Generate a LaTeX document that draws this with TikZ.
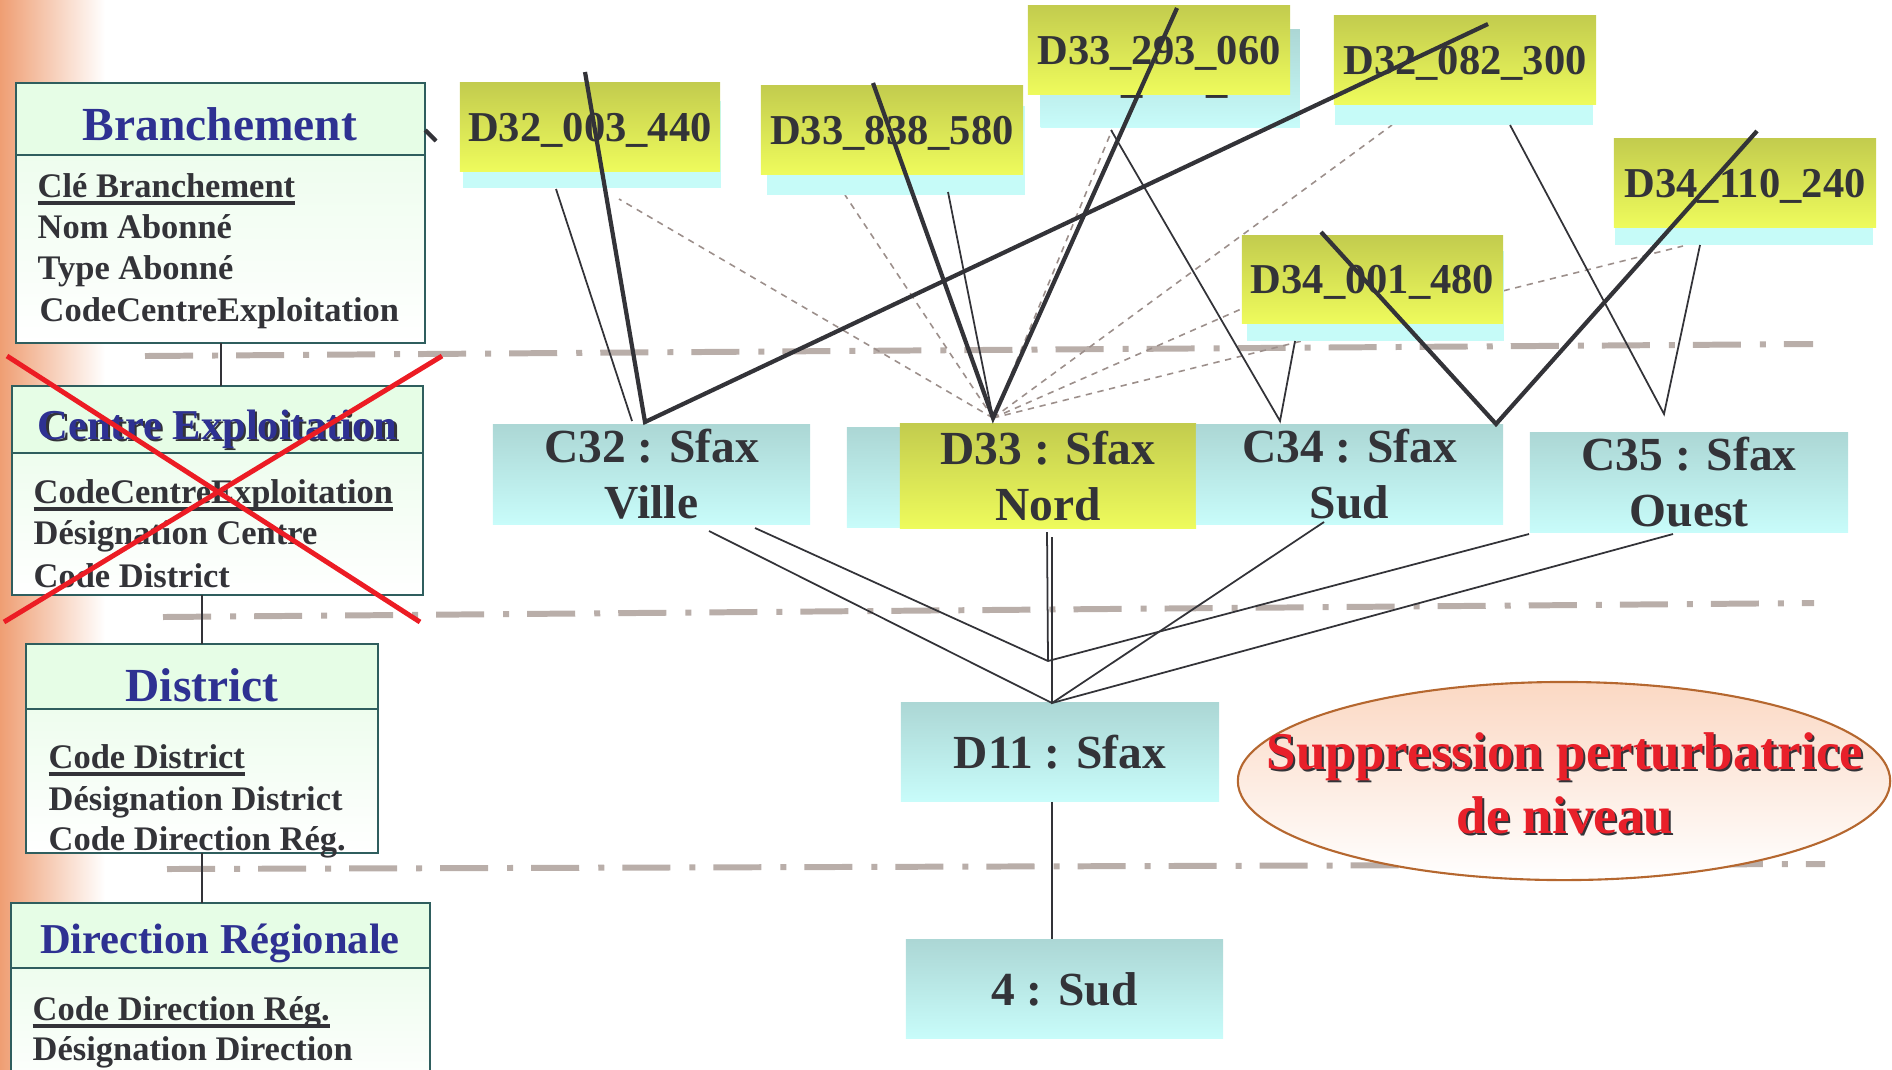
\documentclass[tikz,border=0pt]{standalone}
\usepackage{fontspec}
\setmainfont{Liberation Serif}
\usetikzlibrary{positioning,shapes.geometric}

\definecolor{orng}{HTML}{EF9E73}
\definecolor{entline}{HTML}{2F5E5E}
\definecolor{entgreen}{HTML}{E6FDE6}
\definecolor{entbody}{HTML}{EEFDEE}
\definecolor{ttlblue}{HTML}{2E3192}
\definecolor{txtgray}{HTML}{333338}
\definecolor{ytop}{HTML}{C3CC4E}
\definecolor{ybot}{HTML}{EEFB5C}
\definecolor{ctop}{HTML}{ACD7D5}
\definecolor{cbot}{HTML}{C8FCFA}
\definecolor{cshade}{HTML}{C6FBF8}
\definecolor{lvlgray}{HTML}{B9AEA9}
\definecolor{fangray}{HTML}{9C8F8B}
\definecolor{crossred}{HTML}{EC1C24}
\definecolor{ovalline}{HTML}{B5672F}
\definecolor{ovaltop}{HTML}{FBD8C3}
\definecolor{suppred}{HTML}{E8202A}

\newlength{\ulwd}
\newcommand{\uln}[1]{\settowidth{\ulwd}{#1}\rlap{\rule[-2.2pt]{\ulwd}{1pt}}#1}
\newcommand{\dfont}{\fontsize{12.1}{14}\selectfont\bfseries}

\begin{document}
\begin{tikzpicture}[x=0.01cm, y=-0.01cm,
  hdr/.style={draw=entline, line width=0.6pt, fill=entgreen, inner sep=0pt, outer sep=0pt},
  ebody/.style={draw=entline, line width=0.6pt, top color=entbody, bottom color=white, inner sep=0pt, outer sep=0pt},
  ttl/.style={text=ttlblue, font=\fontsize{13.5}{16}\selectfont\bfseries, inner sep=0pt},
  ttls/.style={ttl, font=\fontsize{12.1}{14}\selectfont\bfseries},
  att/.style={text=txtgray, font=\fontsize{9.8}{11.7}\selectfont\bfseries, inner sep=0pt},
  dsh/.style={fill=cshade, inner sep=0pt, anchor=north west, text=txtgray, font=\dfont, text depth=0pt},
  dbox/.style={top color=ytop, bottom color=ybot, inner sep=0pt, text=txtgray, font=\dfont, text depth=0pt},
  cbox/.style={top color=ctop, bottom color=cbot, inner sep=0pt, align=center, text=txtgray, font=\fontsize{13.5}{15.9}\selectfont\bfseries},
  lvl/.style={draw=lvlgray, line width=1.7pt, dash pattern=on 0.48cm off 0.19cm on 0.06cm off 0.18cm},
  fan/.style={draw=fangray, line width=0.45pt, dash pattern=on 1.8pt off 1.6pt},
  thn/.style={draw=txtgray, line width=0.5pt},
  thk/.style={draw=txtgray, line width=1.2pt},
  cross/.style={draw=crossred, line width=1.4pt},
  oval/.style={ellipse, draw=ovalline, line width=0.6pt, top color=ovaltop, bottom color=white, inner sep=0pt},
  supp/.style={align=center, inner sep=0pt, text=suppred, font=\fontsize{15.1}{18.2}\selectfont\bfseries}]

  \useasboundingbox (0,0) rectangle (1892,1069);
  \clip (0,0) rectangle (1892,1069);
  \shade[left color=orng, right color=white] (0,0) rectangle (105,1069);

  \coordinate (l1a) at (145,356);
  \coordinate (l1b) at (1813,344);
  \coordinate (l2a) at (163,617);
  \coordinate (l2b) at (1814,603);
  \coordinate (l3a) at (167,869);
  \coordinate (l3b) at (1825,864);
  \draw[lvl] (l1a) -- (l1b);
  \draw[lvl] (l2a) -- (l2b);
  \draw[lvl] (l3a) -- (l3b);

  \node[hdr, minimum width=4.09cm, minimum height=0.72cm, anchor=north west] (brh) at (16,83) {};
  \node[ebody, minimum width=4.09cm, minimum height=1.88cm, below=0pt of brh] (brb) {};
  \node[ttl, anchor=base] (brt) at (220,140) {Branchement};
  \node[att, anchor=base west] (br1) at (37,197) {\uln{Clé Branchement}};
  \node[att, anchor=base west] (br2) at (37,238) {Nom Abonné};
  \node[att, anchor=base west] (br3) at (37,279) {Type Abonné};
  \node[att, anchor=base west] (br4) at (39,321) {CodeCentreExploitation};
  \coordinate (stb) at (436,141);
  \draw[thk] (brb.north east |- 0,130) -- (stb);

  \node[hdr, minimum width=4.11cm, minimum height=0.67cm, anchor=north west] (ceh) at (12,386) {};
  \node[ebody, minimum width=4.11cm, minimum height=1.42cm, below=0pt of ceh] (ceb) {};
  \node[ttls, text=txtgray, anchor=base] (cets) at (220,441) {Centre Exploitation};
  \node[ttls, anchor=base] (cet) at (217.5,439) {Centre Exploitation};
  \node[att, anchor=base west] (ce1) at (33,503) {\uln{CodeCentreExploitation}};
  \node[att, anchor=base west] (ce2) at (33,544) {Désignation Centre};
  \node[att, anchor=base west] (ce3) at (33,587) {Code District};

  \node[hdr, minimum width=3.52cm, minimum height=0.65cm, anchor=north west] (dih) at (26,644) {};
  \node[ebody, minimum width=3.52cm, minimum height=1.44cm, below=0pt of dih] (dib) {};
  \node[ttl, anchor=base] (dit) at (202,701) {District};
  \node[att, anchor=base west] (di1) at (48,768) {\uln{Code District}};
  \node[att, anchor=base west] (di2) at (48,810) {Désignation District};
  \node[att, anchor=base west] (di3) at (48,850) {Code Direction Rég.};

  \node[hdr, minimum width=4.19cm, minimum height=0.65cm, anchor=north west] (drh) at (11,903) {};
  \node[ebody, minimum width=4.19cm, minimum height=1.25cm, below=0pt of drh] (drb) {};
  \node[ttls, anchor=base] (drt) at (220,953) {Direction Régionale};
  \node[att, anchor=base west] (dr1) at (32,1020) {\uln{Code Direction Rég.}};
  \node[att, anchor=base west] (dr2) at (32,1060) {Désignation Direction};

  \draw[thn] (brb.south) -- (brb.south |- ceh.north);
  \draw[thn] (dih.north) -- (dih.north |- ceb.south);
  \draw[thn] (dib.south) -- (dib.south |- drh.north);

  \coordinate (xa) at (7,356);
  \coordinate (xb) at (420,622);
  \coordinate (xc) at (442,356);
  \coordinate (xd) at (4,622);
  \draw[cross] (xa) -- (xb);
  \draw[cross] (xc) -- (xd);

  \coordinate (a33) at (993,418);
  \coordinate (f1) at (619,199);
  \coordinate (f2) at (845,195);
  \coordinate (f3) at (1112,130);
  \coordinate (f4) at (1392,125);
  \coordinate (f5) at (1330,270);
  \coordinate (f6) at (1683,246);
  \draw[fan] (a33) -- (f1);
  \draw[fan] (a33) -- (f2);
  \draw[fan] (a33) -- (f3);
  \draw[fan] (a33) -- (f4);
  \draw[fan] (a33) -- (f5);
  \draw[fan] (a33) -- (f6);

  \node[dsh, minimum width=2.58cm, minimum height=0.87cm] (d1s) at (462,100) {};
  \node[dbox, minimum width=2.60cm, minimum height=0.88cm] (d1) at (590,127) {D32\_003\_440};
  \node[dsh, minimum width=2.58cm, minimum height=0.89cm] (d2s) at (766,105) {};
  \node[dbox, minimum width=2.62cm, minimum height=0.88cm] (d2) at (892,130) {D33\_838\_580};
  \node[dsh, top color=ctop, bottom color=cbot, minimum width=2.59cm, minimum height=0.98cm] (d3s) at (1040,29) {D33\_293\_060};
  \node[dbox, minimum width=2.62cm, minimum height=0.88cm] (d3) at (1159,50) {D33\_293\_060};
  \node[dsh, minimum width=2.58cm, minimum height=0.94cm] (d4s) at (1334,30) {};
  \node[dbox, minimum width=2.62cm, minimum height=0.88cm] (d4) at (1465,60) {D32\_082\_300};
  \node[dsh, minimum width=2.57cm, minimum height=0.90cm] (d5s) at (1246,250) {};
  \node[dbox, minimum width=2.61cm, minimum height=0.87cm] (d5) at (1372.5,279.5) {D34\_001\_480};
  \node[dsh, minimum width=2.58cm, minimum height=0.94cm] (d6s) at (1614,150) {};
  \node[dbox, minimum width=2.62cm, minimum height=0.88cm] (d6) at (1745,183) {D34\_110\_240};

  \node[cbox, minimum width=3.17cm, minimum height=0.99cm] (c32) at (651.5,474.5) {C32 : Sfax\\Ville};
  \node[cbox, minimum width=3.18cm, minimum height=0.99cm] (c33) at (1006,477.5) {};
  \node[cbox, top color=ytop, bottom color=ybot, minimum width=2.96cm, minimum height=1.04cm] (dn) at (1048,476) {D33 : Sfax\\Nord};
  \node[cbox, minimum width=3.07cm, minimum height=0.99cm] (c34) at (1349.5,474.5) {C34 : Sfax\\Sud};
  \node[cbox, minimum width=3.18cm, minimum height=0.99cm] (c35) at (1689,482.5) {C35 : Sfax\\Ouest};

  \coordinate (a32) at (645,422);
  \coordinate (a32t) at (632,421);
  \coordinate (a34) at (1280,421);
  \coordinate (a34b) at (1496,424);
  \coordinate (a35) at (1664,414);
  \coordinate (t1) at (585,72);
  \coordinate (t2) at (1488,24);
  \coordinate (t3) at (873,83);
  \coordinate (t4) at (1177,8);
  \coordinate (t5) at (1321,232);
  \coordinate (t6) at (1757,131);
  \coordinate (n1) at (556,189);
  \coordinate (n2) at (948,192);
  \coordinate (n3) at (1111,130);
  \coordinate (n4) at (1295,341);
  \coordinate (n5) at (1510,125);
  \coordinate (n6) at (1700,245);
  \draw[thk] (t1) -- (a32) -- (t2);
  \draw[thk] (t3) -- (a33) -- (t4);
  \draw[thk] (t5) -- (a34b) -- (t6);
  \draw[thn] (n1) -- (a32t);
  \draw[thn] (n2) -- (a33);
  \draw[thn] (n3) -- (a34) -- (n4);
  \draw[thn] (n5) -- (a35) -- (n6);

  \node[cbox, minimum width=3.18cm, minimum height=0.98cm] (d11) at (1060,752) {D11 : Sfax};
  \node[cbox, minimum width=3.17cm, minimum height=0.98cm] (s4) at (1064.5,989) {4 : Sud};

  \coordinate (b1) at (709,531);
  \coordinate (b2) at (755,528);
  \coordinate (b3) at (1047,532);
  \coordinate (b4) at (1052,537);
  \coordinate (jn) at (1048,661);
  \coordinate (d11a) at (1052,703);
  \coordinate (b5) at (1529,534);
  \coordinate (b6) at (1673,534);
  \coordinate (b7) at (1324,522);
  \draw[thn] (b1) -- (d11a);
  \draw[thn] (b2) -- (jn) -- (b5);
  \draw[thn] (b3) -- (jn);
  \draw[thn] (b4) -- (d11a) -- (b6);
  \draw[thn] (d11a) -- (b7);
  \draw[thn] (d11.south -| d11a) -- (s4.north -| d11a);

  \node[oval, minimum width=6.52cm, minimum height=1.98cm] (ov) at (1564,781) {};
  \node[supp, text=txtgray] (ovs) at (1567,785) {Suppression perturbatrice\\de niveau};
  \node[supp] (ovt) at (1565,783) {Suppression perturbatrice\\de niveau};
\end{tikzpicture}
\end{document}
